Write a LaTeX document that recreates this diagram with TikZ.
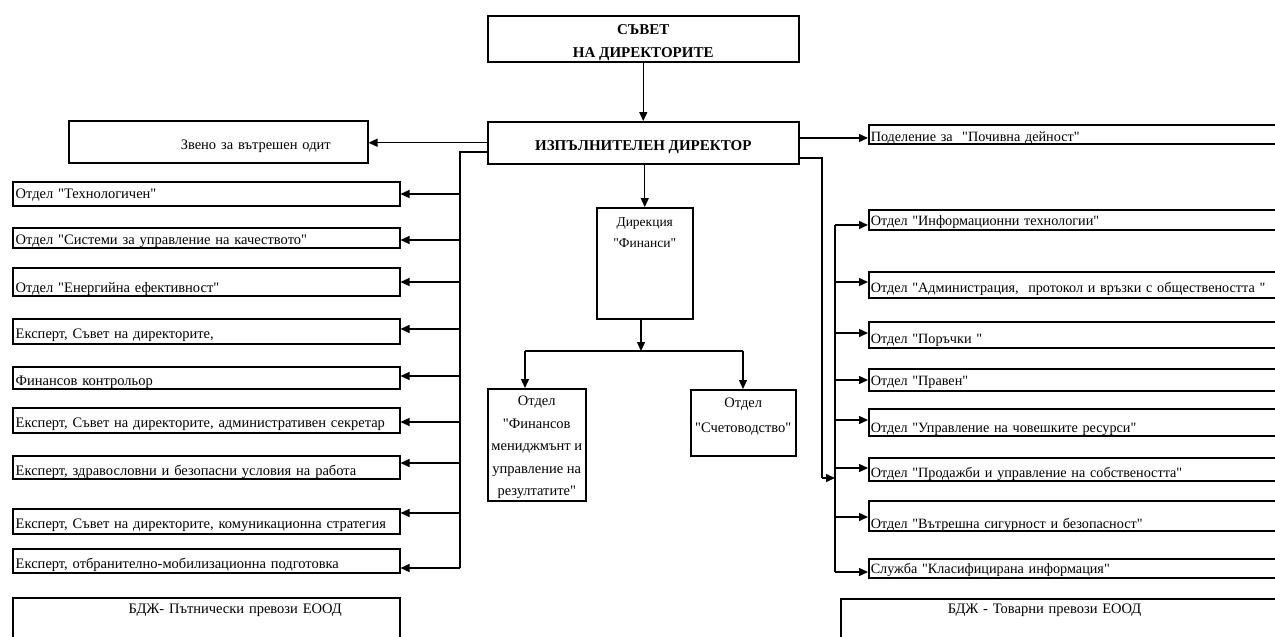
\documentclass[tikz,border=0pt]{standalone}
\usepackage{fontspec}
\setmainfont{Liberation Serif}[Ligatures=TeXOff]
\usetikzlibrary{arrows.meta}
\newcommand\mlines[1]{\vbox{\halign{\hfil##\hfil\cr#1\crcr}}}
\begin{document}
\begin{tikzpicture}[x=1pt,y=-1pt,
  box/.style={draw, line width=1.5pt, inner ysep=0pt, minimum height=0pt, font=\fontsize{14.5}{16}\selectfont},
  lbox/.style={box, anchor=north west, text width=381pt, inner xsep=3pt, align=left},
  rbox/.style={box, anchor=north west, text width=413pt, inner xsep=2pt, align=left, font=\fontsize{14.2}{16}\selectfont},
  cbox/.style={box, anchor=north west, inner xsep=0pt},
  title/.style={font=\fontsize{15}{23}\selectfont\bfseries},
  arr/.style={line width=1.4pt, -{Triangle[length=9pt,width=8pt]}},
  ln/.style={line width=1.4pt}]
\useasboundingbox (0,0) rectangle (1275,637);
\clip (0,0) rectangle (1275,637);

% top
\node[cbox, title, minimum width=311pt, text height=42pt, text depth=4pt] (sd) at (487,15) {\mlines{СЪВЕТ\cr НА ДИРЕКТОРИТЕ}};
\node[cbox, title, minimum width=311pt, text height=29pt, text depth=13pt] (ed) at (487,121) {ИЗПЪЛНИТЕЛЕН ДИРЕКТОР};
\node[box, anchor=north west, text width=293pt, inner xsep=3pt, align=left, text height=29pt, text depth=13pt] (zv) at (68,120) {\hspace*{109pt}Звено за вътрешен одит};

% left column
\node[lbox, text height=17pt, text depth=7pt] (l1) at (12,181) {Отдел "Технологичен"};
\node[lbox, text height=17pt, text depth=3pt] (l2) at (12,227) {Отдел "Системи за управление на качеството"};
\node[lbox, text height=25pt, text depth=3pt] (l3) at (12,267) {Отдел "Енергийна ефективност"};
\node[lbox, text height=20pt, text depth=5pt] (l4) at (12,318) {Експерт, Съвет на директорите,};
\node[lbox, text height=19pt, text depth=3pt] (l5) at (12,366) {Финансов контрольор};
\node[lbox, text height=20pt, text depth=5pt] (l6) at (12,407) {Експерт, Съвет на директорите, административен секретар};
\node[lbox, text height=20pt, text depth=3pt] (l7) at (12,455) {Експерт, здравословни и безопасни условия на работа};
\node[lbox, text height=20pt, text depth=5pt] (l8) at (12,508) {Експерт, Съвет на директорите, комуникационна стратегия};
\node[lbox, text height=20pt, text depth=4pt] (l9) at (12,548) {Експерт, отбранително-мобилизационна подготовка};

% right column
\node[rbox, text height=17pt, text depth=2pt] (r0) at (868,124) {Поделение за\ \ "Почивна дейност"};
\node[rbox, text height=16pt, text depth=4pt] (r1) at (868,209) {Отдел "Информационни технологии"};
\node[rbox, text height=21pt, text depth=5pt] (r2) at (868,271) {Отдел "Администрация,\ \ протокол и връзки с обществеността "};
\node[rbox, text height=22pt, text depth=4pt] (r3) at (868,321) {Отдел "Поръчки "};
\node[rbox, text height=17pt, text depth=5pt] (r4) at (868,368) {Отдел "Правен"};
\node[rbox, text height=24pt, text depth=3pt] (r5) at (868,408) {Отдел "Управление на човешките ресурси"};
\node[rbox, text height=20pt, text depth=3pt] (r6) at (868,457) {Отдел "Продажби и управление на собствеността"};
\node[rbox, text height=28pt, text depth=2pt] (r7) at (868,500) {Отдел "Вътрешна сигурност и безопасност"};
\node[rbox, text height=15pt, text depth=4pt] (r8) at (868,558) {Служба "Класифицирана информация"};

% centre
\node[cbox, font=\fontsize{13.5}{21}\selectfont, minimum width=96pt, text height=40pt, text depth=71pt] (dir) at (596,207) {\mlines{Дирекция\cr "Финанси"}};
\node[cbox, font=\fontsize{14.5}{22.5}\selectfont, minimum width=98pt, text height=107pt, text depth=5pt] (fm) at (487,388) {\mlines{Отдел\cr "Финансов\cr мениджмънт и\cr управление на\cr резултатите"}};
\node[cbox, font=\fontsize{14.5}{25}\selectfont, minimum width=105pt, text height=43pt, text depth=23pt] (sch) at (690,389) {\mlines{Отдел\cr "Счетоводство"}};

% bottom
\node[box, font=\fontsize{14.5}{17}\selectfont, anchor=north west, text width=381pt, inner xsep=3pt, align=left, text height=16pt, text depth=37pt] (bl) at (12,597) {\hspace*{113pt}БДЖ- Пътнически превози ЕООД};
\node[box, font=\fontsize{14.5}{17}\selectfont, anchor=north west, text width=444pt, inner xsep=3pt, align=left, text height=15pt, text depth=37pt] (br) at (840,598) {\hspace*{104pt}БДЖ - Товарни превози ЕООД};

% connectors
\draw[arr] (sd.south) -- (ed.north);
\draw[arr] (ed.west) -- (ed.west -| zv.east);
\coordinate (lb) at (460,152);
\coordinate (lbe) at (460,568);
\draw[ln] (ed.west |- lb) -- (lb) -- (lbe);
\foreach \n/\y in {l1/194, l2/240, l3/282, l4/329, l5/376, l6/422, l7/463, l8/513, l9/568}
  \draw[arr] (460,\y) -- (\n.east |- 0,\y);

\coordinate (pa) at (800,138);
\draw[arr] (ed.east |- pa) -- (r0.west |- pa);
\coordinate (ro) at (822,158);
\coordinate (roe) at (822,478);
\coordinate (ri) at (835,478);
\draw[ln] (ed.east |- ro) -- (ro) -- (roe);
\draw[arr] (roe) -- (ri);
\coordinate (rt) at (835,225);
\coordinate (rb) at (835,572);
\draw[ln] (rt) -- (rb);
\foreach \n/\y in {r1/225, r2/282, r3/333, r4/380, r5/420, r6/468, r7/517, r8/572}
  \draw[arr] (835,\y) -- (\n.west |- 0,\y);

\draw[arr] (dir.north |- ed.south) -- (dir.north);
\coordinate (hm) at (641,351);
\coordinate (hl) at (525,351);
\coordinate (hr) at (743,351);
\draw[arr] (dir.south -| hm) -- (hm);
\draw[ln] (hl) -- (hr);
\draw[arr] (hl) -- (hl |- fm.north);
\draw[arr] (hr) -- (hr |- sch.north);
\end{tikzpicture}
\end{document}
